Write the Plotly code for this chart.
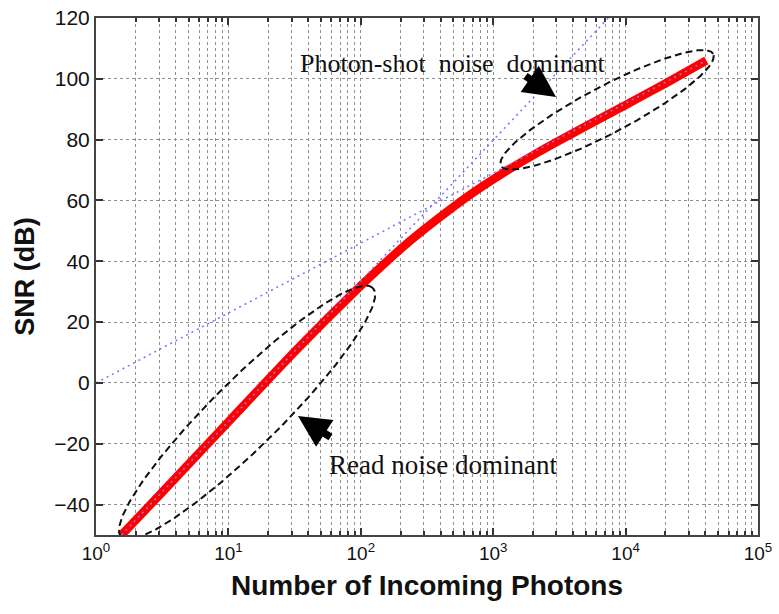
import numpy as np
import plotly.graph_objects as go

# ---------------- data ----------------
photons = [1.56, 3.2, 10, 32, 100, 117, 209, 372, 665, 1186, 2118, 3776, 10100, 20000, 40700]
snr_db = [-50, -35.7, -12.8, 10.5, 32, 34.8, 44.8, 53.6, 61.8, 69, 75.5, 81.5, 91.5, 98.5, 106]

shot_photons = [1, 40700]          # photon-shot-noise asymptote
shot_snr = [0, 106]
read_photons = [1.56, 7400]        # read-noise asymptote
read_snr = [-50, 120]

x_tick_vals = [1, 10, 100, 1000, 10000, 100000]
x_tick_text = ["10<sup>0</sup>", "10<sup>1</sup>", "10<sup>2</sup>",
               "10<sup>3</sup>", "10<sup>4</sup>", "10<sup>5</sup>"]
y_tick_vals = [-40, -20, 0, 20, 40, 60, 80, 100, 120]

# ---------------- layout geometry ----------------
W, H = 779, 614
ML, MR, MT, MB = 96, 21, 18, 79
X_RANGE = [0, 5]            # log10
Y_RANGE = [-50, 120]
SX = (W - ML - MR) / (X_RANGE[1] - X_RANGE[0])   # px per decade
SY = (H - MT - MB) / (Y_RANGE[1] - Y_RANGE[0])   # px per dB


def ellipse(c_logx, c_db, a_px, b_px, ang_deg, n=240):
    t = np.linspace(0, 2 * np.pi, n)
    th = np.radians(ang_deg)
    px = a_px * np.cos(t) * np.cos(th) - b_px * np.sin(t) * np.sin(th)
    py = a_px * np.cos(t) * np.sin(th) + b_px * np.sin(t) * np.cos(th)
    return 10 ** (c_logx + px / SX), c_db + py / SY


fig = go.Figure()

fig.add_trace(go.Scatter(x=photons, y=snr_db, mode="lines",
                         line=dict(color="#ff0000", width=8.5, shape="spline", smoothing=0.5),
                         showlegend=False, hoverinfo="skip"))
fig.add_trace(go.Scatter(x=shot_photons, y=shot_snr, mode="lines",
                         line=dict(color="#7b7bff", width=1.6, dash="2px,4px"),
                         showlegend=False, hoverinfo="skip"))
fig.add_trace(go.Scatter(x=read_photons, y=read_snr, mode="lines",
                         line=dict(color="#7b7bff", width=1.6, dash="2px,4px"),
                         showlegend=False, hoverinfo="skip"))

ex, ey = ellipse(1.141, -9.7, 177, 34, 44.7)
fig.add_trace(go.Scatter(x=ex, y=ey, mode="lines",
                         line=dict(color="#111111", width=2, dash="7px,4px"),
                         showlegend=False, hoverinfo="skip"))
ex, ey = ellipse(3.86, 89.8, 120, 23.6, 27.8)
fig.add_trace(go.Scatter(x=ex, y=ey, mode="lines",
                         line=dict(color="#111111", width=2, dash="7px,4px"),
                         showlegend=False, hoverinfo="skip"))


def px2paper(px, py):
    return (px - ML) / (W - ML - MR), (H - MB - py) / (H - MT - MB)


annotations = []
tx, ty = px2paper(453, 63)
annotations.append(dict(x=tx, y=ty, xref="paper", yref="paper", showarrow=False,
                        xanchor="center", yanchor="middle",
                        text="Photon-shot  noise  dominant",
                        font=dict(family="Liberation Serif", size=26, color="#111")))
tx, ty = px2paper(443, 465)
annotations.append(dict(x=tx, y=ty, xref="paper", yref="paper", showarrow=False,
                        xanchor="center", yanchor="middle",
                        text="Read noise dominant",
                        font=dict(family="Liberation Serif", size=27, color="#111")))
hx, hy = px2paper(556, 97)
annotations.append(dict(x=hx, y=hy, xref="paper", yref="paper", text="", showarrow=True,
                        ax=-32, ay=-22, arrowhead=2, arrowsize=0.85, arrowwidth=7.5,
                        arrowcolor="#000"))
hx, hy = px2paper(298, 416)
annotations.append(dict(x=hx, y=hy, xref="paper", yref="paper", text="", showarrow=True,
                        ax=34, ay=22, arrowhead=2, arrowsize=0.85, arrowwidth=7.5,
                        arrowcolor="#000"))

grid = dict(showgrid=True, gridcolor="#8f8f8f", griddash="dot", gridwidth=1)

fig.update_layout(
    width=W, height=H,
    margin=dict(l=ML, r=MR, t=MT, b=MB),
    paper_bgcolor="white", plot_bgcolor="white",
    annotations=annotations,
    xaxis=dict(type="log", range=X_RANGE, tickvals=x_tick_vals, ticktext=x_tick_text,
               automargin=False,
               ticks="inside", ticklen=7, tickwidth=1.5, tickcolor="#333",
               showline=True, linecolor="#444", linewidth=2, mirror="allticks",
               zeroline=False,
               tickfont=dict(family="Liberation Sans", size=19, color="#111"),
               title=dict(text="<b>Number of Incoming Photons</b>", standoff=13,
                          font=dict(family="Liberation Sans", size=28, color="#111")),
               minor=dict(dtick="D1", ticks="inside", ticklen=4, tickcolor="#333",
                          showgrid=True, gridcolor="#8f8f8f", griddash="dot", gridwidth=1),
               **grid),
    yaxis=dict(range=Y_RANGE, tickvals=y_tick_vals, automargin=False,
               ticks="inside", ticklen=7, tickwidth=1.5, tickcolor="#333",
               showline=True, linecolor="#444", linewidth=2, mirror="allticks",
               zeroline=False,
               tickfont=dict(family="Liberation Sans", size=21, color="#111"),
               title=dict(text="<b>SNR (dB)</b>", standoff=12,
                          font=dict(family="Liberation Sans", size=27, color="#111")),
               **grid),
)

fig.write_html("out.html")
